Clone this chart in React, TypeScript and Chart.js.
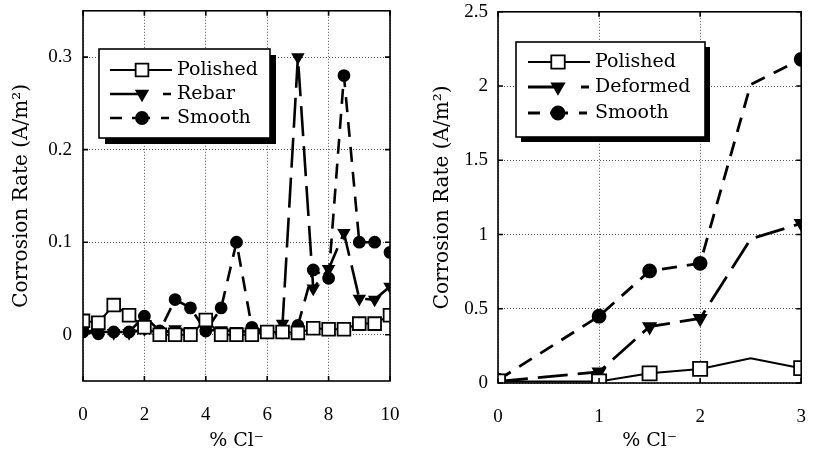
import React, { useEffect, useRef } from "react";
import { Chart, registerables } from "chart.js";

Chart.register(...registerables);

// ---------- Data: left panel ----------
const leftX = [0, 0.5, 1, 1.5, 2, 2.5, 3, 3.5, 4, 4.5, 5, 5.5, 6, 6.5, 7, 7.5, 8, 8.5, 9, 9.5, 10];
const leftPolished = [0.015, 0.013, 0.032, 0.021, 0.008, 0, 0, 0, 0.016, 0, 0, 0, 0.003, 0.003, 0.002, 0.007, 0.006, 0.006, 0.012, 0.012, 0.021];
const leftRebar = [0.004, 0.004, 0.002, 0.002, 0.006, 0.001, 0.006, 0.004, 0.005, 0.005, 0.004, 0.003, 0.003, 0.012, 0.3, 0.05, 0.071, 0.11, 0.039, 0.038, 0.052];
const leftSmooth = [0.003, 0.001, 0.003, 0.003, 0.02, 0.004, 0.038, 0.029, 0.004, 0.029, 0.1, 0.008, 0.003, 0.002, 0.01, 0.07, 0.061, 0.28, 0.1, 0.1, 0.089];
const leftXTicks = [0, 2, 4, 6, 8, 10];
const leftYTicks = [0, 0.1, 0.2, 0.3];
const leftLabels = ["Polished", "Rebar", "Smooth"];

// ---------- Data: right panel ----------
const rightX = [0, 1, 1.5, 2, 2.5, 3];
const rightPolished = [0.01, 0.01, 0.065, 0.095, 0.167, 0.1];
const rightDeformed = [0.01, 0.075, 0.38, 0.435, 0.97, 1.075];
const rightSmooth = [0.02, 0.45, 0.755, 0.806, 2.01, 2.18];
const rightUnmarkedX = [2.5];
const rightXTicks = [0, 1, 2, 3];
const rightYTicks = [0, 0.5, 1, 1.5, 2, 2.5];
const rightLabels = ["Polished", "Deformed", "Smooth"];

const xTitle = "% Cl\u207B";
const yTitle = "Corrosion Rate (A/m\u00B2)";

const TICK_FONT = { family: "Liberation Serif", size: 19 };
const TITLE_FONT = "DejaVu Serif";

type Marker = { pointStyle: string; fill: string };

function drawMarker(ctx: CanvasRenderingContext2D, m: Marker, x: number, y: number, r: number) {
  ctx.save();
  ctx.beginPath();
  if (m.pointStyle === "rect") {
    const s = r * Math.SQRT1_2;
    ctx.rect(x - s, y - s, 2 * s, 2 * s);
  } else if (m.pointStyle === "triangle") {
    const dx = r * Math.sin(Math.PI / 3);
    ctx.moveTo(x - dx, y - r / 2);
    ctx.lineTo(x + dx, y - r / 2);
    ctx.lineTo(x, y + r);
    ctx.closePath();
  } else {
    ctx.arc(x, y, r, 0, Math.PI * 2);
  }
  ctx.fillStyle = m.fill;
  ctx.fill();
  ctx.setLineDash([]);
  ctx.lineWidth = 1.8;
  ctx.strokeStyle = "#000";
  ctx.stroke();
  ctx.restore();
}

const framePlugin = {
  id: "frame",
  afterDraw(chart: any) {
    const { ctx, chartArea } = chart;
    const { left, right, top, bottom } = chartArea;
    ctx.save();
    ctx.setLineDash([]);
    ctx.strokeStyle = "#000";
    ctx.lineWidth = 1.6;
    ctx.strokeRect(left, top, right - left, bottom - top);
    const xs = chart.scales.x;
    const ys = chart.scales.y;
    ctx.beginPath();
    xs.ticks.forEach((t: any) => {
      const p = xs.getPixelForValue(t.value);
      ctx.moveTo(p, bottom);
      ctx.lineTo(p, bottom - 5);
      ctx.moveTo(p, top);
      ctx.lineTo(p, top + 5);
    });
    ys.ticks.forEach((t: any) => {
      const p = ys.getPixelForValue(t.value);
      ctx.moveTo(left, p);
      ctx.lineTo(left + 5, p);
      ctx.moveTo(right, p);
      ctx.lineTo(right - 5, p);
    });
    ctx.stroke();
    ctx.restore();
  },
};

type LegendEntry = { label: string; marker: Marker; r: number; lineWidth: number; dash: number[] };
type LegendBox = {
  x: number; y: number; w: number; h: number; shadow: number;
  rowY: number[]; lineX0: number; lineX1: number; markerX: number; textX: number;
  entries: LegendEntry[];
};

function makeLegendPlugin(cfg: LegendBox) {
  return {
    id: "boxLegend",
    afterDraw(chart: any) {
      const ctx: CanvasRenderingContext2D = chart.ctx;
      ctx.save();
      ctx.setLineDash([]);
      ctx.fillStyle = "#000";
      ctx.fillRect(cfg.x + cfg.shadow, cfg.y + cfg.shadow, cfg.w, cfg.h);
      ctx.fillStyle = "#fff";
      ctx.fillRect(cfg.x, cfg.y, cfg.w, cfg.h);
      ctx.lineWidth = 1.6;
      ctx.strokeStyle = "#000";
      ctx.strokeRect(cfg.x, cfg.y, cfg.w, cfg.h);
      cfg.entries.forEach((e, i) => {
        const ry = cfg.rowY[i];
        ctx.beginPath();
        ctx.setLineDash(e.dash);
        ctx.lineWidth = e.lineWidth;
        ctx.strokeStyle = "#000";
        ctx.moveTo(cfg.lineX0, ry);
        ctx.lineTo(cfg.lineX1, ry);
        ctx.stroke();
        ctx.setLineDash([]);
        drawMarker(ctx, e.marker, cfg.markerX, ry, e.r);
        ctx.fillStyle = "#000";
        ctx.font = `19px "${TITLE_FONT}"`;
        ctx.textBaseline = "middle";
        ctx.textAlign = "left";
        ctx.fillText(e.label, cfg.textX, ry);
      });
      ctx.restore();
    },
  };
}

const squareMarker: Marker = { pointStyle: "rect", fill: "#ffffff" };
const triMarker: Marker = { pointStyle: "triangle", fill: "#000000" };
const dotMarker: Marker = { pointStyle: "circle", fill: "#000000" };

const SOLID: number[] = [];
const LONG_DASH = [30, 10];
const SHORT_DASH = [15, 10];

function series(label: string, xs: number[], ys: number[], marker: Marker, radius: any, lineWidth: number, dash: number[]) {
  return {
    label,
    data: xs.map((x, i) => ({ x, y: ys[i] })),
    borderColor: "#000",
    borderWidth: lineWidth,
    borderDash: dash,
    backgroundColor: marker.fill,
    pointStyle: marker.pointStyle,
    pointRotation: marker.pointStyle === "triangle" ? 180 : 0,
    pointRadius: radius,
    pointBackgroundColor: marker.fill,
    pointBorderColor: "#000",
    pointBorderWidth: 1.8,
    fill: false,
    tension: 0,
  };
}

function zeroPad(s: any) {
  s.paddingTop = 0;
  s.paddingBottom = 0;
  s.paddingLeft = 0;
  s.paddingRight = 0;
}

function axes(p: {
  xMin: number; xMax: number; yMin: number; yMax: number;
  xTicks: number[]; yTicks: number[]; yWidth: number; xHeight: number;
  yPad: number; yTitlePad: number;
}) {
  const grid = { color: "#555", lineWidth: 1, drawTicks: false };
  return {
    x: {
      type: "linear",
      min: p.xMin,
      max: p.xMax,
      afterBuildTicks: (s: any) => { s.ticks = p.xTicks.map((v) => ({ value: v })); },
      afterFit: (s: any) => { s.height = p.xHeight; zeroPad(s); },
      grid,
      border: { display: false, dash: [1, 2] },
      ticks: { padding: 23, color: "#000", font: TICK_FONT, maxRotation: 0, autoSkip: false, callback: (v: any) => String(v) },
      title: { display: true, text: xTitle, color: "#000", font: { family: TITLE_FONT, size: 19 }, padding: { top: 0, bottom: 0 } },
    },
    y: {
      type: "linear",
      min: p.yMin,
      max: p.yMax,
      afterBuildTicks: (s: any) => { s.ticks = p.yTicks.map((v) => ({ value: v })); },
      afterFit: (s: any) => { s.width = p.yWidth; zeroPad(s); },
      grid,
      border: { display: false, dash: [1, 2] },
      ticks: { padding: p.yPad, color: "#000", font: TICK_FONT, autoSkip: false, callback: (v: any) => String(v) },
      title: { display: true, text: yTitle, color: "#000", font: { family: TITLE_FONT, size: 20 }, padding: { top: p.yTitlePad, bottom: 0 } },
    },
  };
}

function useChart(ref: React.RefObject<HTMLCanvasElement | null>, build: () => any) {
  useEffect(() => {
    if (!ref.current) return;
    const chart = new Chart(ref.current, build());
    return () => chart.destroy();
  }, []);
}

export default function App() {
  const leftRef = useRef<HTMLCanvasElement>(null);
  const rightRef = useRef<HTMLCanvasElement>(null);

  useEffect(() => {
    document.body.style.margin = "0";
    document.body.style.background = "#fff";
  }, []);

  useChart(leftRef, () => ({
    type: "line",
    data: {
      datasets: [
        series(leftLabels[0], leftX, leftPolished, squareMarker, 9, 2, SOLID),
        series(leftLabels[1], leftX, leftRebar, triMarker, 6, 2.6, LONG_DASH),
        series(leftLabels[2], leftX, leftSmooth, dotMarker, 5.5, 2.6, SHORT_DASH),
      ],
    },
    options: {
      responsive: false,
      animation: false,
      devicePixelRatio: 1,
      layout: { padding: { top: 8, right: 20, bottom: 0, left: 0 } },
      plugins: { legend: { display: false }, tooltip: { enabled: false } },
      scales: axes({ xMin: 0, xMax: 10, yMin: -0.05, yMax: 0.35, xTicks: leftXTicks, yTicks: leftYTicks, yWidth: 83, xHeight: 71, yPad: 11, yTitlePad: 10 }),
    },
    plugins: [
      framePlugin,
      makeLegendPlugin({
        x: 99, y: 49, w: 171, h: 89, shadow: 6,
        rowY: [70, 94, 118], lineX0: 110, lineX1: 172, markerX: 142, textX: 177,
        entries: [
          { label: leftLabels[0], marker: squareMarker, r: 9, lineWidth: 2, dash: [] },
          { label: leftLabels[1], marker: triMarker, r: 6.5, lineWidth: 2.6, dash: [28, 25, 8, 100] },
          { label: leftLabels[2], marker: dotMarker, r: 6, lineWidth: 2.6, dash: [12, 10, 18, 11, 8, 100] },
        ],
      }),
    ],
  }));

  useChart(rightRef, () => ({
    type: "line",
    data: {
      datasets: [
        series(rightLabels[0], rightX, rightPolished, squareMarker, (c: any) => (rightUnmarkedX.includes(rightX[c.dataIndex]) ? 0 : 10), 2, SOLID),
        series(rightLabels[1], rightX, rightDeformed, triMarker, (c: any) => (rightUnmarkedX.includes(rightX[c.dataIndex]) ? 0 : 7), 2.8, LONG_DASH),
        series(rightLabels[2], rightX, rightSmooth, dotMarker, (c: any) => (rightUnmarkedX.includes(rightX[c.dataIndex]) ? 0 : 6.5), 2.8, SHORT_DASH),
      ],
    },
    options: {
      responsive: false,
      animation: false,
      devicePixelRatio: 1,
      layout: { padding: { top: 10, right: 6, bottom: 0, left: 0 } },
      plugins: { legend: { display: false }, tooltip: { enabled: false } },
      scales: axes({ xMin: 0, xMax: 3, yMin: 0, yMax: 2.5, xTicks: rightXTicks, yTicks: rightYTicks, yWidth: 88, xHeight: 69, yPad: 10, yTitlePad: 21 }),
    },
    plugins: [
      framePlugin,
      makeLegendPlugin({
        x: 106, y: 42, w: 189, h: 95, shadow: 5,
        rowY: [62, 87, 113], lineX0: 118, lineX1: 180, markerX: 148, textX: 185,
        entries: [
          { label: rightLabels[0], marker: squareMarker, r: 9.5, lineWidth: 2, dash: [] },
          { label: rightLabels[1], marker: triMarker, r: 7, lineWidth: 2.8, dash: [28, 25, 8, 100] },
          { label: rightLabels[2], marker: dotMarker, r: 6.5, lineWidth: 2.8, dash: [12, 10, 18, 11, 8, 100] },
        ],
      }),
    ],
  }));

  return (
    <div style={{ display: "flex", width: 813, height: 452, background: "#fff" }}>
      <canvas ref={leftRef} width={410} height={452} style={{ display: "block" }} />
      <canvas ref={rightRef} width={403} height={452} style={{ display: "block" }} />
    </div>
  );
}
